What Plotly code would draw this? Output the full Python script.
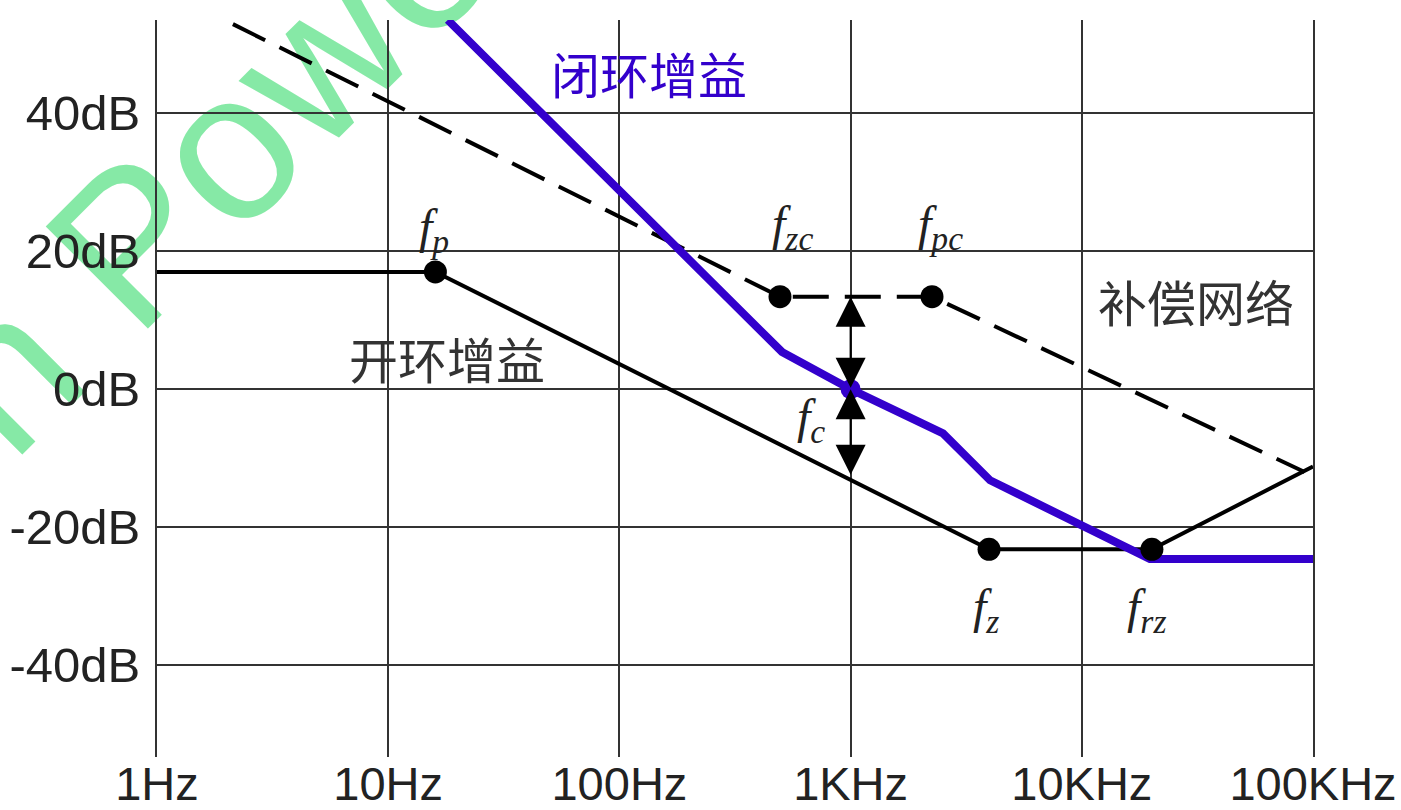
import numpy as np
import plotly.graph_objects as go

# ---- data ----
x_tick_vals = [1, 10, 100, 1000, 10000, 100000]
x_tick_text = ["1Hz", "10Hz", "100Hz", "1KHz", "10KHz", "100KHz"]
y_tick_vals = [-40, -20, 0, 20, 40]
y_tick_text = ["-40dB", "-20dB", "0dB", "20dB", "40dB"]

# open-loop gain (solid black)
freq_open = [1, 16, 3970, 20100, 100000]
gain_open = [17, 17, -23.2, -23.2, -11.2]
# break points on open loop (fp, fz, frz)
freq_open_pts = [16, 3970, 20100]
gain_open_pts = [17, -23.2, -23.2]

# compensation network (dashed black)
freq_comp = [2.13, 495, 2250, 92000]
gain_comp = [52.9, 13.4, 13.4, -12.0]
freq_comp_pts = [495, 2250]
gain_comp_pts = [13.4, 13.4]

# closed-loop gain (blue)
freq_closed = [18.1, 505, 1000, 2510, 4010, 19700, 100000]
gain_closed = [53.5, 5.4, 0, -6.4, -13.2, -24.6, -24.6]
fc_freq = 1000
fc_gain = 0
open_at_fc = -12.6

BLUE = "#3300cc"
GRID = "#333333"

fig = go.Figure()

fig.add_trace(go.Scatter(x=freq_comp, y=gain_comp, mode="lines",
                         line=dict(color="black", width=4, dash="36px,16px"),
                         showlegend=False, hoverinfo="skip"))
fig.add_trace(go.Scatter(x=freq_open, y=gain_open, mode="lines",
                         line=dict(color="black", width=4),
                         showlegend=False, hoverinfo="skip"))
fig.add_trace(go.Scatter(x=freq_closed, y=gain_closed, mode="lines",
                         line=dict(color=BLUE, width=8),
                         showlegend=False, hoverinfo="skip"))
fig.add_trace(go.Scatter(x=freq_open_pts + freq_comp_pts, y=gain_open_pts + gain_comp_pts,
                         mode="markers", marker=dict(color="black", size=23),
                         cliponaxis=False, showlegend=False, hoverinfo="skip"))
fig.add_trace(go.Scatter(x=[fc_freq], y=[fc_gain], mode="markers",
                         marker=dict(color=BLUE, size=20),
                         cliponaxis=False, showlegend=False, hoverinfo="skip"))

# double arrows at fc
lx = np.log10(fc_freq)
for y_top, y_bot in [(gain_comp_pts[0], fc_gain), (fc_gain, open_at_fc)]:
    fig.add_annotation(x=lx, y=y_top, ax=lx, ay=y_bot, xref="x", yref="y",
                       axref="x", ayref="y", showarrow=True, text="",
                       arrowhead=2, startarrowhead=2, arrowside="end+start",
                       arrowsize=3, startarrowsize=3, arrowwidth=2,
                       arrowcolor="black", standoff=0, startstandoff=0)

serif = "Liberation Serif, Times New Roman, serif"
labels = [
    ("<i>f</i><sub><i>p</i></sub>", 1.196, 23.0),
    ("<i>f</i><sub><i>zc</i></sub>", 2.75, 23.5),
    ("<i>f</i><sub><i>pc</i></sub>", 3.39, 23.5),
    ("<i>f</i><sub><i>c</i></sub>", 2.83, -4.5),
    ("<i>f</i><sub><i>z</i></sub>", 3.585, -32.0),
    ("<i>f</i><sub><i>rz</i></sub>", 4.28, -32.0),
]
for t, x, y in labels:
    fig.add_annotation(x=x, y=y, text=t, showarrow=False,
                       font=dict(family=serif, size=48, color="#222222"))

cjk = "Noto Sans CJK SC, sans-serif"
fig.add_annotation(x=2.128, y=45.9, text="闭环增益", showarrow=False,
                   font=dict(family=cjk, size=49, color=BLUE))
fig.add_annotation(x=1.254, y=4.6, text="开环增益", showarrow=False,
                   font=dict(family=cjk, size=49, color="#333333"))
fig.add_annotation(x=4.494, y=12.9, text="补偿网络", showarrow=False,
                   font=dict(family=cjk, size=49, color="#333333"))

# watermark (below everything)
fig.add_shape(type="rect", xref="paper", yref="paper",
              x0=0.006, x1=0.101, y0=0.815, y1=0.895,
              line=dict(width=0), fillcolor="rgba(0,0,0,0)", layer="below",
              label=dict(text="n Power", textangle=-45,
                         textposition="middle center",
                         font=dict(family="Liberation Sans, Arial", size=210,
                                   color="#86e9a6")))

fig.update_xaxes(type="log", range=[0, 5], tickvals=x_tick_vals, ticktext=x_tick_text,
                 showgrid=True, gridcolor=GRID, gridwidth=2, zeroline=False,
                 showline=False, ticks="", ticklen=0, ticklabelstandoff=-5,
                 automargin=False,
                 tickfont=dict(family="Liberation Sans, Arial", size=47, color="#222222"))
fig.update_yaxes(range=[-53.3, 53.5], tickvals=y_tick_vals, ticktext=y_tick_text,
                 showgrid=True, gridcolor=GRID, gridwidth=2, zeroline=False,
                 showline=True, linecolor=GRID, linewidth=2, mirror=True,
                 ticks="", ticklen=0, ticklabelstandoff=5, automargin=False,
                 tickfont=dict(family="Liberation Sans, Arial", size=49, color="#222222"))

fig.update_layout(width=1401, height=810,
                  margin=dict(l=157, r=88, t=20, b=53),
                  paper_bgcolor="white", plot_bgcolor="white",
                  showlegend=False)

fig.write_html("out.html", config={"displayModeBar": False},
               post_script="document.body.style.margin='0';")
